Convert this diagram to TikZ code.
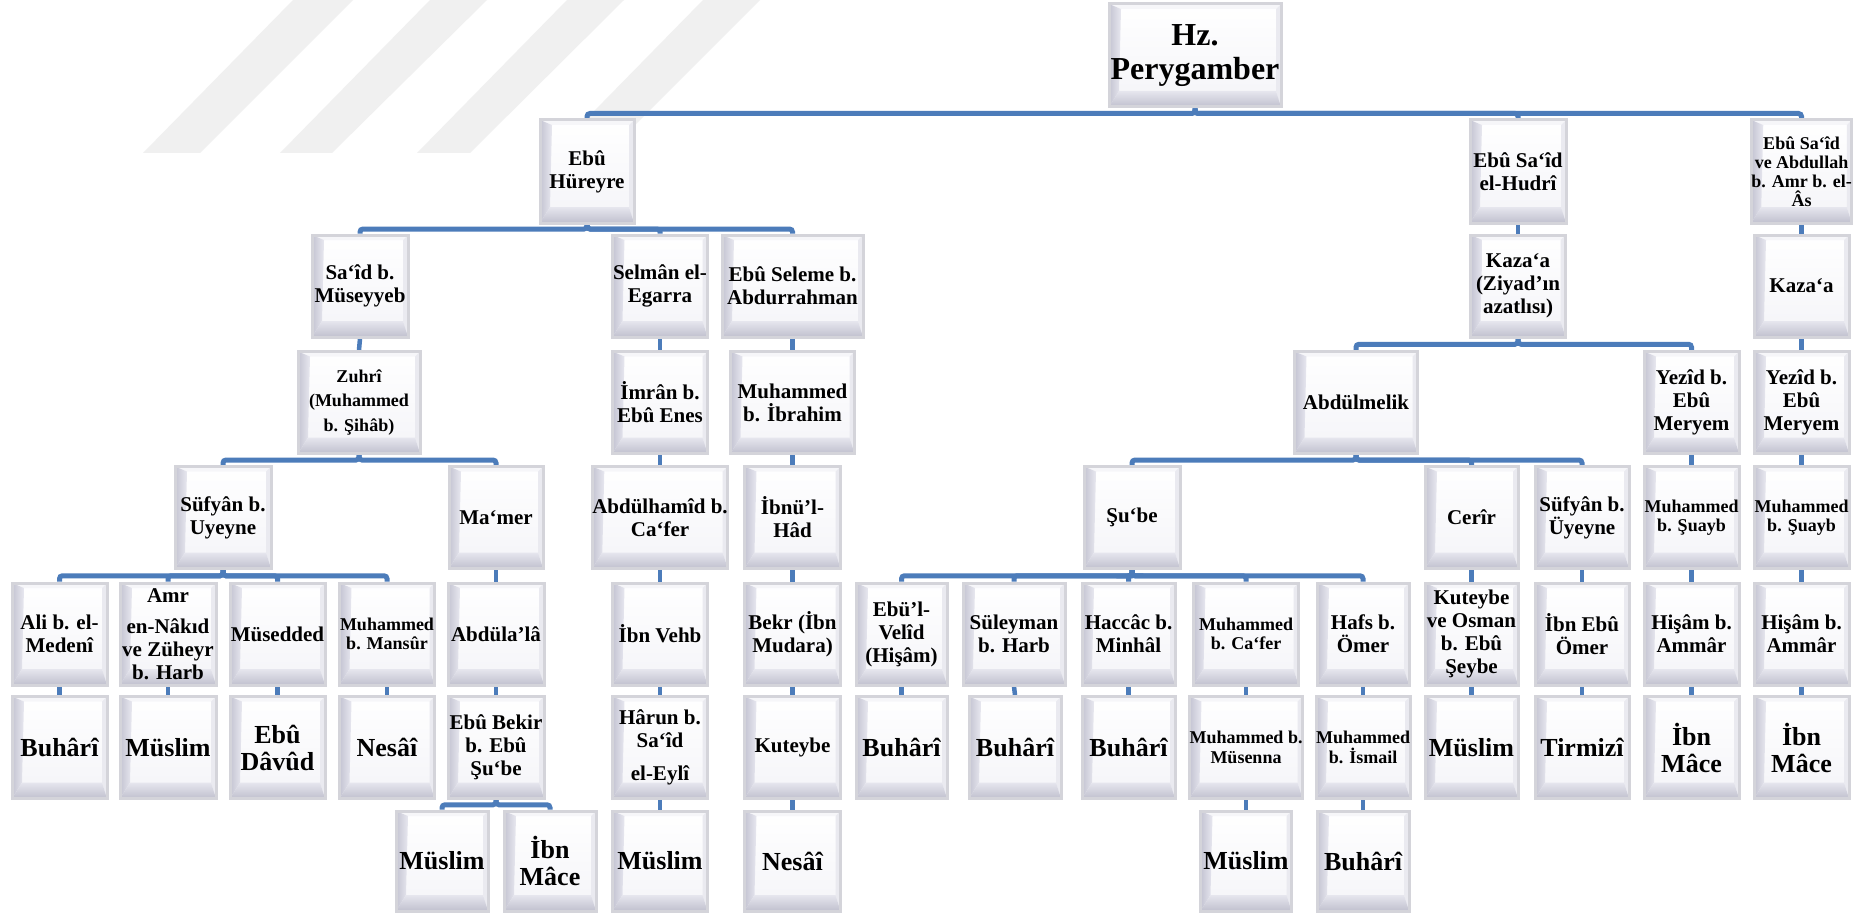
\documentclass[tikz,border=0pt]{standalone}
\usepackage{fontspec}
\setmainfont{Liberation Serif}
\usetikzlibrary{calc,backgrounds}
\definecolor{connblue}{RGB}{76,124,186}
\definecolor{frame}{RGB}{212,212,218}
\definecolor{face}{RGB}{244,244,248}
\definecolor{bevL}{RGB}{196,196,210}
\definecolor{bevLi}{RGB}{232,232,240}
\definecolor{bevB}{RGB}{192,192,206}
\definecolor{bevBi}{RGB}{230,230,238}
\definecolor{bevT}{RGB}{246,246,249}
\definecolor{bevR}{RGB}{234,234,240}
\definecolor{wm}{RGB}{240,240,240}
\tikzset{
  bevel/.style={path picture={
    \fill[bevT] (path picture bounding box.north west) -- (path picture bounding box.north east)
      -- ([shift={(-5pt,-5pt)}]path picture bounding box.north east)
      -- ([shift={(12pt,-5pt)}]path picture bounding box.north west) -- cycle;
    \fill[bevR] (path picture bounding box.north east) -- (path picture bounding box.south east)
      -- ([shift={(-5pt,16pt)}]path picture bounding box.south east)
      -- ([shift={(-5pt,-5pt)}]path picture bounding box.north east) -- cycle;
    \shade[left color=bevL, right color=bevLi] (path picture bounding box.north west)
      -- ([shift={(12pt,-5pt)}]path picture bounding box.north west)
      -- ([shift={(10pt,16pt)}]path picture bounding box.south west)
      -- (path picture bounding box.south west) -- cycle;
    \shade[top color=bevBi, bottom color=bevB] (path picture bounding box.south west)
      -- ([shift={(10pt,16pt)}]path picture bounding box.south west)
      -- ([shift={(-5pt,16pt)}]path picture bounding box.south east)
      -- (path picture bounding box.south east) -- cycle;
  }},
  bx/.style={draw=frame, line width=3pt, top color=white, bottom color=face,
    inner sep=0pt, align=center, minimum height=102pt, minimum width=95pt,
    font=\bfseries\fontsize{21}{23}\selectfont, bevel},
  f18/.style={font=\bfseries\fontsize{18}{19.5}\selectfont},
  f26/.style={font=\bfseries\fontsize{26}{27}\selectfont},
  link/.style={draw=connblue, line width=5pt, rounded corners=3pt},
  short/.style={draw=connblue, line width=4.5pt},
  org/.style={to path={(\tikztostart) |- ($(\tikztostart)!0.5!(\tikztotarget)$) -| (\tikztotarget)}},
}
\begin{document}
\begin{tikzpicture}[x=1pt,y=-1pt]
\useasboundingbox (0,0) rectangle (1869,915);
% row 0
\node[bx, minimum width=172pt, minimum height=103pt, font=\bfseries\fontsize{32}{34}\selectfont] (root) at (1195,55.5) {Hz.\\Perygamber};
% row 1
\node[bx, minimum width=94pt, minimum height=103pt] (ebh) at (587,171.5) {Ebû\\Hüreyre};
\node[bx, minimum width=96pt, minimum height=103pt] (hud) at (1518,171.5) {Ebû Sa‘îd\\el-Hudrî};
\node[bx, minimum width=97pt, minimum height=103pt, font=\bfseries\fontsize{18}{19}\selectfont] (abd) at (1801.5,171.5) {Ebû Sa‘îd\\ve Abdullah\\b. Amr b. el-\\Âs};
% row 2
\node[bx, minimum width=96pt] (sms) at (360,286) {Sa‘îd b.\\Müseyyeb};
\node[bx] (sel) at (660,286) {Selmân el-\\Egarra};
\node[bx, minimum width=141pt] (ebs) at (792.5,286) {Ebû Seleme b.\\Abdurrahman};
\node[bx] (kzz) at (1518,286) {Kaza‘a\\(Ziyad’ın\\azatlısı)};
\node[bx] (kz) at (1801.5,286) {Kaza‘a};
% row 3
\node[bx, minimum width=122pt, font=\bfseries\fontsize{18}{24.5}\selectfont] (zuh) at (359,402.5) {Zuhrî\\(Muhammed\\b. Şihâb)};
\node[bx] (imr) at (660,402.5) {İmrân b.\\Ebû Enes};
\node[bx, minimum width=124pt] (mib) at (792.5,402.5) {Muhammed\\b. İbrahim};
\node[bx, minimum width=123pt] (abm) at (1356,402.5) {Abdülmelik};
\node[bx] (yez1) at (1691.5,402.5) {Yezîd b.\\Ebû\\Meryem};
\node[bx] (yez2) at (1801.5,402.5) {Yezîd b.\\Ebû\\Meryem};
% row 4
\node[bx, minimum width=96pt] (suf) at (223,517.5) {Süfyân b.\\Uyeyne};
\node[bx, minimum width=94pt] (mam) at (496,517.5) {Ma‘mer};
\node[bx, minimum width=132pt] (ahc) at (660,517.5) {Abdülhamîd b.\\Ca‘fer};
\node[bx, minimum width=96pt] (ihd) at (792.5,517.5) {İbnü’l-\\Hâd};
\node[bx, minimum width=96pt] (sub) at (1132,517.5) {Şu‘be};
\node[bx, minimum width=93pt] (cer) at (1471.5,517.5) {Cerîr};
\node[bx, minimum width=94pt] (suf2) at (1582,517.5) {Süfyân b.\\Üyeyne};
\node[bx, f18] (msy1) at (1691.5,517.5) {Muhammed\\b. Şuayb};
\node[bx, f18] (msy2) at (1801.5,517.5) {Muhammed\\b. Şuayb};
% row 5
\node[bx] (ali) at (59.5,634) {Ali b. el-\\Medenî};
\node[bx, minimum width=96pt] (amr) at (168,634) {Amr\\[8pt]en-Nâkıd\\ve Züheyr\\b. Harb};
\node[bx] (mus) at (277.5,634) {Müsedded};
\node[bx, f18] (mms) at (387,634) {Muhammed\\b. Mansûr};
\node[bx, minimum width=96pt] (abl) at (496,634) {Abdüla’lâ};
\node[bx] (ivh) at (660,634) {İbn Vehb};
\node[bx, minimum width=96pt] (bkr) at (792.5,634) {Bekr (İbn\\Mudara)};
\node[bx, minimum width=91pt] (ebv) at (901.5,634) {Ebü’l-\\Velîd\\(Hişâm)};
\node[bx, minimum width=102pt] (sul) at (1014,634) {Süleyman\\b. Harb};
\node[bx, minimum width=93pt] (hac) at (1128.5,634) {Haccâc b.\\Minhâl};
\node[bx, f18, minimum width=105pt] (mcf) at (1246,634) {Muhammed\\b. Ca‘fer};
\node[bx, minimum width=92pt] (haf) at (1363,634) {Hafs b.\\Ömer};
\node[bx, minimum width=93pt] (kto) at (1471.5,634) {Kuteybe\\ve Osman\\b. Ebû\\Şeybe};
\node[bx, minimum width=94pt] (ieo) at (1582,634) {İbn Ebû\\Ömer};
\node[bx] (his1) at (1691.5,634) {Hişâm b.\\Ammâr};
\node[bx] (his2) at (1801.5,634) {Hişâm b.\\Ammâr};
% row 6
\node[bx, f26] (bu1) at (59.5,747.5) {Buhârî};
\node[bx, f26, minimum width=96pt] (mu1) at (168,747.5) {Müslim};
\node[bx, f26] (ed) at (277.5,747.5) {Ebû\\Dâvûd};
\node[bx, f26] (ne1) at (387,747.5) {Nesâî};
\node[bx, minimum width=96pt] (ebb) at (496,747.5) {Ebû Bekir\\b. Ebû\\Şu‘be};
\node[bx] (har) at (660,747.5) {Hârun b.\\Sa‘îd\\[10pt]el-Eylî};
\node[bx, minimum width=96pt] (kut) at (792.5,747.5) {Kuteybe};
\node[bx, f26, minimum width=91pt] (bu2) at (901.5,747.5) {Buhârî};
\node[bx, f26, minimum width=92pt] (bu3) at (1015,747.5) {Buhârî};
\node[bx, f26, minimum width=93pt] (bu4) at (1128.5,747.5) {Buhârî};
\node[bx, f18, minimum width=112pt] (mms2) at (1246,747.5) {Muhammed b.\\Müsenna};
\node[bx, f18, minimum width=92pt] (mis) at (1363,747.5) {Muhammed\\b. İsmail};
\node[bx, f26, minimum width=93pt] (mu2) at (1471.5,747.5) {Müslim};
\node[bx, f26, minimum width=94pt] (tir) at (1582,747.5) {Tirmizî};
\node[bx, f26] (im1) at (1691.5,747.5) {İbn\\Mâce};
\node[bx, f26] (im2) at (1801.5,747.5) {İbn\\Mâce};
% row 7
\node[bx, f26, minimum width=92pt, minimum height=100pt] (mu3) at (442,861) {Müslim};
\node[bx, f26, minimum width=92pt, minimum height=100pt] (ima) at (550,861) {İbn\\Mâce};
\node[bx, f26, minimum height=100pt] (mu4) at (660,861) {Müslim};
\node[bx, f26, minimum width=96pt, minimum height=100pt] (ne2) at (792.5,861) {Nesâî};
\node[bx, f26, minimum width=91pt, minimum height=100pt] (mu5) at (1246,861) {Müslim};
\node[bx, f26, minimum width=92pt, minimum height=100pt] (bu5) at (1363,861) {Buhârî};

\begin{scope}[on background layer]
\fill[white] (0,0) rectangle (1869,915);
\fill[wm] (293,0) -- (353,0) -- (200,153) -- (143,153) -- cycle;
\fill[wm] (430,0) -- (487,0) -- (332,153) -- (280,153) -- cycle;
\fill[wm] (567,0) -- (624,0) -- (470,153) -- (417,153) -- cycle;
\fill[wm] (703,0) -- (760,0) -- (607,153) -- (553,153) -- cycle;
% branching connectors
\foreach \c in {ebh,hud,abd} \draw[link] (root.south) to[org] (\c.north);
\foreach \c in {sms,sel,ebs} \draw[link] (ebh.south) to[org] (\c.north);
\foreach \c in {abm,yez1} \draw[link] (kzz.south) to[org] (\c.north);
\foreach \c in {suf,mam} \draw[link] (zuh.south) to[org] (\c.north);
\foreach \c in {sub,cer,suf2} \draw[link] (abm.south) to[org] (\c.north);
\foreach \c in {ali,amr,mus,mms} \draw[link] (suf.south) to[org] (\c.north);
\foreach \c in {ebv,sul,hac,mcf,haf} \draw[link] (sub.south) to[org] (\c.north);
\foreach \c in {mu3,ima} \draw[link] (ebb.south) to[org] (\c.north);
% single connectors
\foreach \p/\c in {hud/kzz,abd/kz,sms/zuh,sel/imr,ebs/mib,kz/yez2,imr/ahc,mib/ihd,
  yez1/msy1,yez2/msy2,mam/abl,ahc/ivh,ihd/bkr,cer/kto,suf2/ieo,msy1/his1,msy2/his2,
  ali/bu1,amr/mu1,mus/ed,mms/ne1,abl/ebb,ivh/har,bkr/kut,ebv/bu2,sul/bu3,hac/bu4,
  mcf/mms2,haf/mis,kto/mu2,ieo/tir,his1/im1,his2/im2,har/mu4,kut/ne2,mms2/mu5,mis/bu5}
  \draw[short] (\p.south) -- (\c.north);
\end{scope}
\end{tikzpicture}
\end{document}
